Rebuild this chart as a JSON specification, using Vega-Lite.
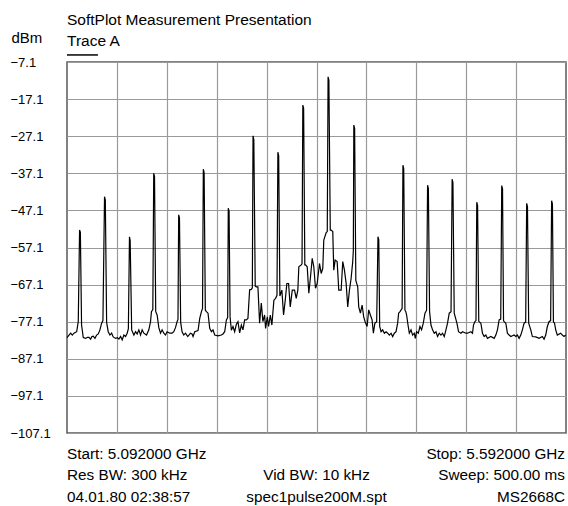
{
  "$schema": "https://vega.github.io/schema/vega-lite/v6.json",
  "autosize": {"type": "none"},
  "padding": {"left": 67, "top": 62, "right": 2, "bottom": 73},
  "width": 499,
  "height": 371,
  "background": "white",
  "config": {
    "font": "Liberation Sans",
    "view": {"stroke": "#5a5a5a", "strokeWidth": 1.5},
    "axis": {"labelOverlap": false}
  },
  "title": {
    "text": "SoftPlot Measurement Presentation",
    "subtitle": "Trace A",
    "anchor": "start",
    "frame": "group",
    "font": "Liberation Sans",
    "subtitleFont": "Liberation Sans",
    "fontSize": 15.5,
    "fontWeight": "normal",
    "subtitleFontSize": 15.5,
    "color": "black",
    "subtitleColor": "black",
    "subtitlePadding": 5,
    "offset": -19
  },
  "layer": [
    {
      "data": {"values": [
        {"mhz":5092.0,"dbm":-81.4},{"mhz":5094.0,"dbm":-80.7},{"mhz":5095.7,"dbm":-80.2},{"mhz":5097.3,"dbm":-80.7},{"mhz":5099.0,"dbm":-80.2},{"mhz":5101.7,"dbm":-79.8},{"mhz":5103.3,"dbm":-77.0},{"mhz":5104.6,"dbm":-52.4},{"mhz":5105.4,"dbm":-53.0},{"mhz":5106.6,"dbm":-78.0},
        {"mhz":5108.3,"dbm":-81.4},{"mhz":5110.7,"dbm":-81.6},{"mhz":5112.5,"dbm":-81.3},{"mhz":5114.0,"dbm":-81.3},{"mhz":5115.7,"dbm":-81.8},{"mhz":5117.0,"dbm":-81.1},{"mhz":5118.3,"dbm":-81.0},{"mhz":5120.0,"dbm":-81.6},{"mhz":5121.7,"dbm":-80.7},{"mhz":5123.3,"dbm":-80.4},
        {"mhz":5125.0,"dbm":-79.3},{"mhz":5126.7,"dbm":-77.5},{"mhz":5128.0,"dbm":-76.8},{"mhz":5129.6,"dbm":-43.4},{"mhz":5130.4,"dbm":-44.3},{"mhz":5131.7,"dbm":-77.3},{"mhz":5133.3,"dbm":-79.8},{"mhz":5135.0,"dbm":-80.7},{"mhz":5136.7,"dbm":-80.2},{"mhz":5138.3,"dbm":-81.2},
        {"mhz":5140.7,"dbm":-81.6},{"mhz":5142.5,"dbm":-81.4},{"mhz":5144.0,"dbm":-81.8},{"mhz":5145.7,"dbm":-81.1},{"mhz":5147.3,"dbm":-82.0},{"mhz":5149.0,"dbm":-80.7},{"mhz":5150.7,"dbm":-81.1},{"mhz":5152.3,"dbm":-80.2},{"mhz":5153.5,"dbm":-79.0},{"mhz":5154.6,"dbm":-54.2},
        {"mhz":5155.3,"dbm":-55.2},{"mhz":5156.8,"dbm":-79.3},{"mhz":5159.0,"dbm":-80.7},{"mhz":5160.7,"dbm":-79.8},{"mhz":5162.3,"dbm":-80.4},{"mhz":5164.0,"dbm":-79.3},{"mhz":5165.7,"dbm":-80.7},{"mhz":5167.3,"dbm":-79.3},{"mhz":5169.0,"dbm":-80.2},{"mhz":5171.7,"dbm":-80.7},
        {"mhz":5174.0,"dbm":-79.3},{"mhz":5175.7,"dbm":-77.1},{"mhz":5176.6,"dbm":-74.4},{"mhz":5178.0,"dbm":-73.8},{"mhz":5178.9,"dbm":-37.1},{"mhz":5179.7,"dbm":-38.0},{"mhz":5180.9,"dbm":-74.4},{"mhz":5182.3,"dbm":-75.3},{"mhz":5184.0,"dbm":-78.7},{"mhz":5185.7,"dbm":-80.2},
        {"mhz":5187.3,"dbm":-79.3},{"mhz":5189.0,"dbm":-80.2},{"mhz":5190.7,"dbm":-80.7},{"mhz":5192.3,"dbm":-79.8},{"mhz":5195.0,"dbm":-80.2},{"mhz":5197.3,"dbm":-80.2},{"mhz":5199.0,"dbm":-79.8},{"mhz":5200.7,"dbm":-78.7},{"mhz":5202.3,"dbm":-77.1},{"mhz":5203.2,"dbm":-76.5},
        {"mhz":5203.9,"dbm":-48.3},{"mhz":5204.7,"dbm":-49.2},{"mhz":5205.9,"dbm":-77.3},{"mhz":5207.3,"dbm":-79.8},{"mhz":5209.0,"dbm":-80.7},{"mhz":5210.7,"dbm":-80.2},{"mhz":5213.0,"dbm":-81.1},{"mhz":5215.7,"dbm":-80.2},{"mhz":5217.3,"dbm":-80.4},{"mhz":5218.3,"dbm":-81.1},
        {"mhz":5220.0,"dbm":-79.8},{"mhz":5223.3,"dbm":-79.5},{"mhz":5225.0,"dbm":-76.2},{"mhz":5226.7,"dbm":-74.4},{"mhz":5227.8,"dbm":-73.5},{"mhz":5228.6,"dbm":-36.0},{"mhz":5229.4,"dbm":-37.0},{"mhz":5230.6,"dbm":-74.0},{"mhz":5231.7,"dbm":-74.4},{"mhz":5233.3,"dbm":-74.8},
        {"mhz":5235.0,"dbm":-78.9},{"mhz":5236.7,"dbm":-79.8},{"mhz":5238.3,"dbm":-79.3},{"mhz":5240.0,"dbm":-80.7},{"mhz":5243.3,"dbm":-80.9},{"mhz":5246.7,"dbm":-80.7},{"mhz":5248.3,"dbm":-80.4},{"mhz":5250.0,"dbm":-79.8},{"mhz":5251.7,"dbm":-76.6},{"mhz":5253.0,"dbm":-76.0},
        {"mhz":5253.6,"dbm":-46.5},{"mhz":5254.4,"dbm":-47.3},{"mhz":5255.4,"dbm":-75.8},{"mhz":5256.7,"dbm":-79.4},{"mhz":5258.3,"dbm":-78.4},{"mhz":5260.0,"dbm":-79.8},{"mhz":5261.7,"dbm":-77.8},{"mhz":5263.3,"dbm":-77.1},{"mhz":5265.0,"dbm":-80.1},{"mhz":5266.7,"dbm":-78.0},
        {"mhz":5268.3,"dbm":-79.3},{"mhz":5270.0,"dbm":-76.6},{"mhz":5271.7,"dbm":-76.6},{"mhz":5273.3,"dbm":-76.2},{"mhz":5275.0,"dbm":-68.5},{"mhz":5276.7,"dbm":-68.4},{"mhz":5277.7,"dbm":-68.0},{"mhz":5278.4,"dbm":-27.0},{"mhz":5279.2,"dbm":-28.0},{"mhz":5280.6,"dbm":-67.5},
        {"mhz":5281.7,"dbm":-67.7},{"mhz":5283.3,"dbm":-67.7},{"mhz":5285.0,"dbm":-77.5},{"mhz":5286.7,"dbm":-72.1},{"mhz":5288.3,"dbm":-77.1},{"mhz":5290.0,"dbm":-75.3},{"mhz":5291.0,"dbm":-78.9},{"mhz":5292.7,"dbm":-75.8},{"mhz":5294.0,"dbm":-78.4},{"mhz":5295.7,"dbm":-75.3},
        {"mhz":5297.3,"dbm":-78.0},{"mhz":5299.3,"dbm":-71.3},{"mhz":5301.0,"dbm":-70.8},{"mhz":5302.4,"dbm":-70.0},{"mhz":5303.3,"dbm":-31.4},{"mhz":5304.1,"dbm":-32.4},{"mhz":5305.3,"dbm":-70.2},{"mhz":5307.3,"dbm":-68.6},{"mhz":5309.0,"dbm":-75.3},{"mhz":5310.7,"dbm":-71.3},
        {"mhz":5312.3,"dbm":-66.8},{"mhz":5314.0,"dbm":-66.8},{"mhz":5315.7,"dbm":-73.1},{"mhz":5317.7,"dbm":-68.6},{"mhz":5320.0,"dbm":-68.6},{"mhz":5321.7,"dbm":-70.8},{"mhz":5323.3,"dbm":-68.6},{"mhz":5324.3,"dbm":-62.3},{"mhz":5326.7,"dbm":-61.8},{"mhz":5327.5,"dbm":-61.5},
        {"mhz":5328.3,"dbm":-18.7},{"mhz":5329.1,"dbm":-19.6},{"mhz":5330.3,"dbm":-61.8},{"mhz":5331.0,"dbm":-61.8},{"mhz":5332.7,"dbm":-62.3},{"mhz":5334.3,"dbm":-69.4},{"mhz":5336.0,"dbm":-65.0},{"mhz":5337.7,"dbm":-60.0},{"mhz":5339.3,"dbm":-62.3},{"mhz":5341.0,"dbm":-68.1},
        {"mhz":5342.7,"dbm":-66.8},{"mhz":5345.0,"dbm":-61.4},{"mhz":5346.7,"dbm":-64.1},{"mhz":5348.3,"dbm":-62.7},{"mhz":5349.3,"dbm":-55.1},{"mhz":5351.7,"dbm":-53.1},{"mhz":5352.8,"dbm":-52.8},{"mhz":5353.6,"dbm":-11.1},{"mhz":5354.4,"dbm":-12.0},{"mhz":5355.8,"dbm":-52.4},
        {"mhz":5356.7,"dbm":-52.4},{"mhz":5358.3,"dbm":-52.8},{"mhz":5359.3,"dbm":-63.2},{"mhz":5360.7,"dbm":-60.5},{"mhz":5362.7,"dbm":-60.9},{"mhz":5364.3,"dbm":-68.6},{"mhz":5366.7,"dbm":-68.6},{"mhz":5368.3,"dbm":-60.9},{"mhz":5370.0,"dbm":-63.2},{"mhz":5371.7,"dbm":-66.8},
        {"mhz":5373.3,"dbm":-73.1},{"mhz":5375.0,"dbm":-68.6},{"mhz":5376.7,"dbm":-65.4},{"mhz":5378.3,"dbm":-60.9},{"mhz":5378.9,"dbm":-58.0},{"mhz":5379.4,"dbm":-24.1},{"mhz":5380.2,"dbm":-25.0},{"mhz":5381.4,"dbm":-66.0},{"mhz":5383.3,"dbm":-67.7},{"mhz":5384.3,"dbm":-73.1},
        {"mhz":5386.0,"dbm":-74.8},{"mhz":5387.7,"dbm":-72.6},{"mhz":5389.3,"dbm":-75.8},{"mhz":5390.7,"dbm":-77.1},{"mhz":5392.7,"dbm":-78.4},{"mhz":5394.3,"dbm":-73.9},{"mhz":5396.0,"dbm":-75.3},{"mhz":5397.7,"dbm":-76.6},{"mhz":5399.0,"dbm":-80.2},{"mhz":5400.5,"dbm":-77.5},
        {"mhz":5402.3,"dbm":-77.1},{"mhz":5403.6,"dbm":-54.2},{"mhz":5404.4,"dbm":-55.0},{"mhz":5405.3,"dbm":-78.4},{"mhz":5406.7,"dbm":-79.8},{"mhz":5408.3,"dbm":-79.3},{"mhz":5410.0,"dbm":-80.2},{"mhz":5411.7,"dbm":-79.8},{"mhz":5413.3,"dbm":-80.2},{"mhz":5415.0,"dbm":-80.7},
        {"mhz":5416.7,"dbm":-80.2},{"mhz":5418.3,"dbm":-81.1},{"mhz":5420.0,"dbm":-80.2},{"mhz":5421.7,"dbm":-79.8},{"mhz":5423.3,"dbm":-77.5},{"mhz":5424.3,"dbm":-74.8},{"mhz":5425.7,"dbm":-74.4},{"mhz":5427.8,"dbm":-73.5},{"mhz":5428.6,"dbm":-34.9},{"mhz":5429.4,"dbm":-35.8},
        {"mhz":5430.6,"dbm":-74.0},{"mhz":5431.5,"dbm":-74.4},{"mhz":5432.3,"dbm":-75.3},{"mhz":5433.7,"dbm":-78.0},{"mhz":5435.0,"dbm":-80.2},{"mhz":5436.7,"dbm":-79.3},{"mhz":5438.3,"dbm":-80.7},{"mhz":5440.0,"dbm":-80.2},{"mhz":5441.0,"dbm":-81.6},{"mhz":5442.3,"dbm":-79.8},
        {"mhz":5444.0,"dbm":-80.2},{"mhz":5445.7,"dbm":-78.4},{"mhz":5447.3,"dbm":-79.3},{"mhz":5449.0,"dbm":-77.5},{"mhz":5450.7,"dbm":-74.8},{"mhz":5452.3,"dbm":-74.0},{"mhz":5453.3,"dbm":-40.3},{"mhz":5454.1,"dbm":-41.2},{"mhz":5455.3,"dbm":-74.4},{"mhz":5456.7,"dbm":-78.0},
        {"mhz":5458.3,"dbm":-79.3},{"mhz":5460.0,"dbm":-80.2},{"mhz":5461.7,"dbm":-79.8},{"mhz":5463.3,"dbm":-81.1},{"mhz":5465.0,"dbm":-80.2},{"mhz":5466.7,"dbm":-80.7},{"mhz":5468.3,"dbm":-80.2},{"mhz":5470.0,"dbm":-81.1},{"mhz":5471.7,"dbm":-79.3},{"mhz":5473.3,"dbm":-77.5},
        {"mhz":5475.0,"dbm":-74.8},{"mhz":5476.8,"dbm":-74.4},{"mhz":5477.9,"dbm":-38.7},{"mhz":5478.7,"dbm":-39.6},{"mhz":5480.0,"dbm":-74.8},{"mhz":5481.0,"dbm":-75.8},{"mhz":5482.7,"dbm":-77.5},{"mhz":5484.3,"dbm":-79.8},{"mhz":5486.7,"dbm":-80.2},{"mhz":5488.3,"dbm":-79.8},
        {"mhz":5491.7,"dbm":-80.2},{"mhz":5493.3,"dbm":-80.2},{"mhz":5496.7,"dbm":-79.8},{"mhz":5498.3,"dbm":-80.2},{"mhz":5499.3,"dbm":-78.0},{"mhz":5500.7,"dbm":-77.1},{"mhz":5501.8,"dbm":-76.8},{"mhz":5502.6,"dbm":-44.9},{"mhz":5503.4,"dbm":-45.8},{"mhz":5504.6,"dbm":-77.0},
        {"mhz":5506.7,"dbm":-77.5},{"mhz":5508.3,"dbm":-80.2},{"mhz":5510.0,"dbm":-81.1},{"mhz":5511.7,"dbm":-80.7},{"mhz":5513.3,"dbm":-81.6},{"mhz":5516.7,"dbm":-81.1},{"mhz":5520.0,"dbm":-81.6},{"mhz":5521.7,"dbm":-80.7},{"mhz":5523.3,"dbm":-79.3},{"mhz":5525.0,"dbm":-76.6},
        {"mhz":5526.6,"dbm":-76.4},{"mhz":5527.6,"dbm":-40.4},{"mhz":5528.4,"dbm":-41.3},{"mhz":5529.4,"dbm":-76.8},{"mhz":5530.0,"dbm":-77.1},{"mhz":5531.7,"dbm":-77.5},{"mhz":5533.3,"dbm":-80.2},{"mhz":5535.0,"dbm":-80.7},{"mhz":5536.7,"dbm":-81.1},{"mhz":5540.0,"dbm":-80.7},
        {"mhz":5541.7,"dbm":-81.1},{"mhz":5543.3,"dbm":-80.7},{"mhz":5545.0,"dbm":-81.6},{"mhz":5546.7,"dbm":-80.7},{"mhz":5548.3,"dbm":-79.3},{"mhz":5550.0,"dbm":-77.5},{"mhz":5551.6,"dbm":-77.2},{"mhz":5552.6,"dbm":-45.2},{"mhz":5553.4,"dbm":-46.1},{"mhz":5554.6,"dbm":-77.5},
        {"mhz":5556.7,"dbm":-79.3},{"mhz":5558.3,"dbm":-81.1},{"mhz":5561.7,"dbm":-81.2},{"mhz":5565.0,"dbm":-81.6},{"mhz":5568.3,"dbm":-81.1},{"mhz":5570.0,"dbm":-81.8},{"mhz":5571.7,"dbm":-80.7},{"mhz":5573.3,"dbm":-78.4},{"mhz":5575.0,"dbm":-77.1},{"mhz":5576.6,"dbm":-76.8},
        {"mhz":5577.6,"dbm":-44.5},{"mhz":5578.4,"dbm":-45.4},{"mhz":5579.4,"dbm":-77.1},{"mhz":5580.5,"dbm":-77.5},{"mhz":5581.7,"dbm":-79.3},{"mhz":5583.3,"dbm":-80.7},{"mhz":5586.7,"dbm":-80.2},{"mhz":5588.3,"dbm":-80.7},{"mhz":5590.0,"dbm":-81.1},{"mhz":5591.7,"dbm":-80.7}
      ]},
      "mark": {"type": "line", "color": "black", "strokeWidth": 1.2},
      "encoding": {
        "x": {
          "field": "mhz", "type": "quantitative",
          "scale": {"domain": [5092, 5592], "nice": false, "zero": false},
          "axis": {
            "values": [5142, 5192, 5242, 5292, 5342, 5392, 5442, 5492, 5542],
            "tickCount": 20,
            "labels": false, "ticks": false, "domain": false, "title": null,
            "grid": true, "gridColor": "#9a9a9a", "gridWidth": 1.2, "gridOpacity": 1
          }
        },
        "y": {
          "field": "dbm", "type": "quantitative",
          "scale": {"domain": [-107.1, -7.1], "nice": false, "zero": false},
          "axis": {
            "values": [-7.1, -17.1, -27.1, -37.1, -47.1, -57.1, -67.1, -77.1, -87.1, -97.1, -107.1],
            "tickCount": 20,
            "format": ".1f",
            "title": "dBm",
            "titleAngle": 0,
            "titleAlign": "left",
            "titleBaseline": "alphabetic",
            "titleX": -56,
            "titleY": -20,
            "titleFont": "Liberation Sans",
            "titleFontSize": 15,
            "titleFontWeight": "normal",
            "titleColor": "black",
            "labelAlign": "left",
            "labelBaseline": "middle",
            "labelPadding": 57,
            "labelFont": "Liberation Sans",
            "labelFontSize": 13,
            "labelColor": "black",
            "labelOverlap": false,
            "labelFlush": false,
            "ticks": false,
            "domain": false,
            "grid": true, "gridColor": "#9a9a9a", "gridWidth": 1.2, "gridOpacity": 1
          }
        }
      }
    },
    {
      "data": {"values": [{"series": "Trace A"}]},
      "mark": {"type": "rule", "color": "black", "strokeWidth": 1.5},
      "encoding": {
        "x": {"datum": 5092},
        "x2": {"datum": 5123},
        "y": {"datum": -5.2}
      }
    },
    {
      "data": {"values": [{"block": "left"}]},
      "mark": {"type": "text", "align": "left", "baseline": "alphabetic", "font": "Liberation Sans", "fontSize": 15.3, "lineHeight": 21.5, "color": "black",
        "text": ["Start: 5.092000 GHz", "Res BW: 300 kHz", "04.01.80 02:38:57"]},
      "encoding": {"x": {"datum": 5092}, "y": {"datum": -114.1}}
    },
    {
      "data": {"values": [{"block": "center"}]},
      "mark": {"type": "text", "align": "center", "baseline": "alphabetic", "font": "Liberation Sans", "fontSize": 15.3, "lineHeight": 21.5, "color": "black",
        "text": ["", "Vid BW: 10 kHz", "spec1pulse200M.spt"]},
      "encoding": {"x": {"datum": 5342}, "y": {"datum": -114.1}}
    },
    {
      "data": {"values": [{"block": "right"}]},
      "mark": {"type": "text", "align": "right", "baseline": "alphabetic", "font": "Liberation Sans", "fontSize": 15.3, "lineHeight": 21.5, "color": "black",
        "text": ["Stop: 5.592000 GHz", "Sweep: 500.00 ms", "MS2668C"]},
      "encoding": {"x": {"datum": 5591}, "y": {"datum": -114.1}}
    }
  ]
}
